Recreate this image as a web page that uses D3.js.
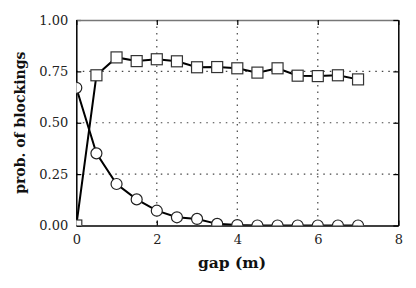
<!DOCTYPE html>
<html><head><meta charset="utf-8">
<script src="https://cdn.jsdelivr.net/npm/d3@7"></script>
<style>body{margin:0;background:#fff}svg{display:block}</style>
</head><body>
<svg id="c" width="416" height="288"></svg>
<script>
const gaps = [0,0.5,1,1.5,2,2.5,3,3.5,4,4.5,5,5.5,6,6.5,7];
const squareSeries = [0.0,0.731,0.818,0.80,0.809,0.799,0.77,0.771,0.765,0.744,0.765,0.729,0.727,0.731,0.711];
const circleSeries = [0.67,0.351,0.202,0.127,0.072,0.04,0.032,0.008,0.002,0,0,0,0,0,0];
const xTicks = [0,2,4,6,8];
const yTicks = [0,0.25,0.5,0.75,1.0];
const xLabel = "gap (m)";
const yLabel = "prob. of blockings";

const svg = d3.select("#c");
const L=76.3, R=398.3, T=20, B=225.5;
const x = d3.scaleLinear().domain([0,8]).range([L,R]);
const y = d3.scaleLinear().domain([0,1]).range([B,T]);
const font = "'DejaVu Serif', serif";

svg.append("defs").append("clipPath").attr("id","clip")
  .append("rect").attr("x",L).attr("y",T).attr("width",R-L).attr("height",B-T);

// grid
const g = svg.append("g");
g.selectAll("line.gx").data(xTicks.filter(d=>d>0&&d<8)).join("line")
  .attr("x1",d=>x(d)).attr("x2",d=>x(d)).attr("y1",T).attr("y2",B)
  .attr("stroke","#444").attr("stroke-width",1.2).attr("stroke-dasharray","1.5,5");
g.selectAll("line.gy").data(yTicks.filter(d=>d>0&&d<1)).join("line")
  .attr("y1",d=>y(d)).attr("y2",d=>y(d)).attr("x1",L).attr("x2",R)
  .attr("stroke","#444").attr("stroke-width",1.2).attr("stroke-dasharray","1.5,5");

// axes
const ax = svg.append("g").attr("transform",`translate(0,${B})`)
  .call(d3.axisBottom(x).tickValues(xTicks).tickFormat(d3.format("d")).tickSizeInner(-5).tickSizeOuter(0).tickPadding(9));
const ay = svg.append("g").attr("transform",`translate(${L},0)`)
  .call(d3.axisLeft(y).tickValues(yTicks).tickFormat(d3.format(".2f")).tickSizeInner(-5).tickSizeOuter(0).tickPadding(8));
const axT = svg.append("g").attr("transform",`translate(0,${T})`)
  .call(d3.axisTop(x).tickValues(xTicks).tickFormat("").tickSizeInner(-5).tickSizeOuter(0));
const ayR = svg.append("g").attr("transform",`translate(${R},0)`)
  .call(d3.axisRight(y).tickValues(yTicks).tickFormat("").tickSizeInner(-5).tickSizeOuter(0));
[ax,ay,axT,ayR].forEach(a=>{
  a.select(".domain").attr("stroke","#000").attr("stroke-width",1.5);
  a.selectAll(".tick line").attr("stroke","#000").attr("stroke-width",1.2);
  a.selectAll("text").attr("font-family",font).attr("font-size",13).attr("fill","#222");
});
axT.select(".domain").attr("stroke","#777");

// data
const plot = svg.append("g").attr("clip-path","url(#clip)");
const line = d3.line().x((d,i)=>x(gaps[i])).y(d=>y(d));
plot.append("path").datum(circleSeries).attr("d",line).attr("fill","none").attr("stroke","#000").attr("stroke-width",2);
plot.append("path").datum(squareSeries).attr("d",line).attr("fill","none").attr("stroke","#000").attr("stroke-width",2);
plot.selectAll("circle").data(circleSeries).join("circle")
  .attr("cx",(d,i)=>x(gaps[i])).attr("cy",d=>y(d)).attr("r",5.5)
  .attr("fill","#fff").attr("stroke","#222").attr("stroke-width",1.2);
plot.selectAll("rect.sq").data(squareSeries).join("rect").attr("class","sq")
  .attr("x",(d,i)=>x(gaps[i])-5.5).attr("y",d=>y(d)-5.5).attr("width",11).attr("height",11)
  .attr("fill","#fff").attr("stroke","#333").attr("stroke-width",1.2);

// labels
svg.append("text").attr("x",232).attr("y",268).attr("text-anchor","middle")
  .attr("font-family",font).attr("font-weight","bold").attr("font-size",15.5).attr("fill","#111").text(xLabel);
svg.append("text").attr("transform",`translate(25,${(T+B)/2}) rotate(-90)`).attr("text-anchor","middle")
  .attr("font-family",font).attr("font-weight","bold").attr("font-size",14).attr("fill","#111").text(yLabel);
</script>
</body></html>
